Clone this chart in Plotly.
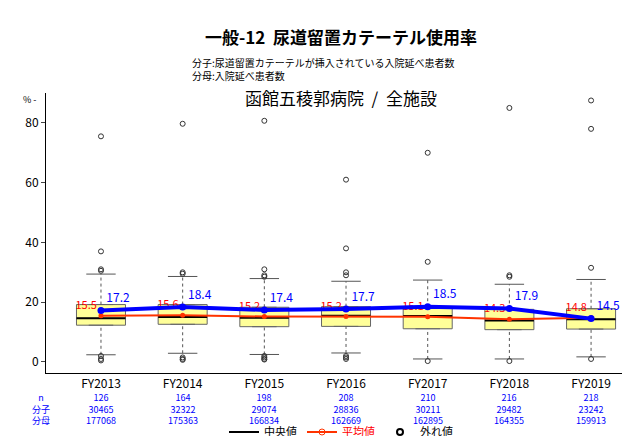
import plotly.graph_objects as go

years = ["FY2013","FY2014","FY2015","FY2016","FY2017","FY2018","FY2019"]
q1 = [12.3,12.6,11.8,11.9,11.1,10.8,11.0]
med = [14.6,15.0,14.8,15.5,15.4,13.9,14.3]
q3 = [19.2,19.2,18.3,18.5,18.3,17.6,17.8]
lw = [2.4,2.9,2.5,3.0,1.0,1.0,1.7]
uw = [29.4,28.6,27.9,27.0,27.4,26.0,27.6]
outliers = [[75.5,37,31,30.5,2,1,0.5],[79.7,30,29.5,1.5,1,0.7],[80.7,31,29,28.5,2,1.5,1,0.8],
            [61,38,30,29,2,1.5,1],[70,33.5,0.3],[85,29,28.5,0.3],[87.5,78,31.5,1.0]]
mean_all = [15.5,15.6,15.2,15.2,15.1,14.3,14.8]
hosp = [17.2,18.4,17.4,17.7,18.5,17.9,14.5]
n = [126,164,198,208,210,216,218]
num = [30465,32322,29074,28836,30211,29482,23242]
den = [177068,175363,166834,162669,162895,164355,159913]

F = "Noto Sans CJK JP"
fig = go.Figure()
xi = list(range(7))
for i in xi:
    fig.add_trace(go.Scatter(x=[i,i,None,i,i], y=[lw[i],q1[i],None,q3[i],uw[i]], mode="lines",
        line=dict(color="#555", width=1, dash="dot"), showlegend=False, hoverinfo="skip"))
    fig.add_trace(go.Scatter(x=[i-0.18,i+0.18,None,i-0.18,i+0.18], y=[lw[i],lw[i],None,uw[i],uw[i]],
        mode="lines", line=dict(color="#555", width=1), showlegend=False, hoverinfo="skip"))
fig.add_trace(go.Box(x=xi, q1=q1, median=med, q3=q3, lowerfence=q1, upperfence=q3,
    fillcolor="#FFFF99", line=dict(color="#666", width=1), width=0.6, showlegend=False, hoverinfo="skip"))
for i in xi:
    fig.add_trace(go.Scatter(x=[i-0.3,i+0.3], y=[med[i],med[i]], mode="lines",
        line=dict(color="black", width=2), showlegend=False))
ox, oy = [], []
for i, o in enumerate(outliers):
    ox += [i]*len(o); oy += o
fig.add_trace(go.Scatter(x=ox, y=oy, mode="markers", showlegend=False,
    marker=dict(symbol="circle-open", size=5, color="#333", line=dict(width=1))))
fig.add_trace(go.Scatter(x=xi, y=mean_all, mode="lines+markers+text", text=[str(v) for v in mean_all],
    textposition="top left", textfont=dict(color="red", size=11, family=F),
    line=dict(color="#FF3300", width=2), marker=dict(size=5, color="#FF3300"), showlegend=False))
fig.add_trace(go.Scatter(x=xi, y=hosp, mode="lines+markers+text", text=[str(v) for v in hosp],
    textposition="top right", textfont=dict(color="blue", size=12, family=F),
    line=dict(color="blue", width=4), marker=dict(size=7, color="blue"), showlegend=False))
fig.add_trace(go.Scatter(x=[None], y=[None], mode="lines", name="中央値", line=dict(color="black", width=2)))
fig.add_trace(go.Scatter(x=[None], y=[None], mode="lines+markers", name="<span style='color:red'>平均値</span>",
    line=dict(color="#FF3300", width=2), marker=dict(symbol="circle-open", color="#FF3300", size=6)))
fig.add_trace(go.Scatter(x=[None], y=[None], mode="markers", name="外れ値",
    marker=dict(symbol="circle-open", size=6, color="black", line=dict(width=2))))

def py(px):
    return (365 - px) / 280

ann = []
for i in xi:
    ann.append(dict(x=i, y=py(381), xref="x", yref="paper", yanchor="top", showarrow=False,
        text=f"{n[i]}<br>{num[i]}<br>{den[i]}", font=dict(color="blue", size=9, family=F)))
ann.append(dict(x=-16/590, y=py(381), xref="paper", yref="paper", yanchor="top", showarrow=False,
    text="n<br>分子<br>分母", font=dict(color="blue", size=9, family=F)))
ann.append(dict(x=0.5, y=py(14), xref="paper", yref="paper", showarrow=False,
    text="<b>一般-12  尿道留置カテーテル使用率</b>", font=dict(size=17, family=F, color="black")))
ann.append(dict(x=(182-38)/590, y=py(45), xref="paper", yref="paper", xanchor="left", showarrow=False,
    align="left", text="分子:尿道留置カテーテルが挿入されている入院延べ患者数<br>分母:入院延べ患者数",
    font=dict(size=10, family=F, color="black")))
ann.append(dict(x=0.5, y=py(75), xref="paper", yref="paper", showarrow=False, text="函館五稜郭病院  /  全施設",
    font=dict(size=17, family=F, color="black")))
ann.append(dict(x=-25/590, y=py(83), xref="paper", yref="paper", showarrow=False, text="% -",
    font=dict(size=9, family=F, color="black")))

fig.update_layout(width=630, height=436, margin=dict(l=38, r=2, t=85, b=71, autoexpand=False),
    plot_bgcolor="white", paper_bgcolor="white", font=dict(family=F, color="black"),
    annotations=ann, legend=dict(orientation="h", x=0.5, xanchor="center", y=py(424), yanchor="middle",
        font=dict(size=11, family=F)),
    xaxis=dict(range=[-0.673,6.55], tickvals=xi, ticktext=years, showline=True, linecolor="black",
        ticks="", tickfont=dict(size=12), showgrid=False, zeroline=False),
    yaxis=dict(range=[-3.7,90], tickvals=[0,20,40,60,80], showline=True, linecolor="black",
        ticks="outside", ticklen=4, showgrid=False, zeroline=False, tickfont=dict(size=12)))
fig.write_html("out.html")
